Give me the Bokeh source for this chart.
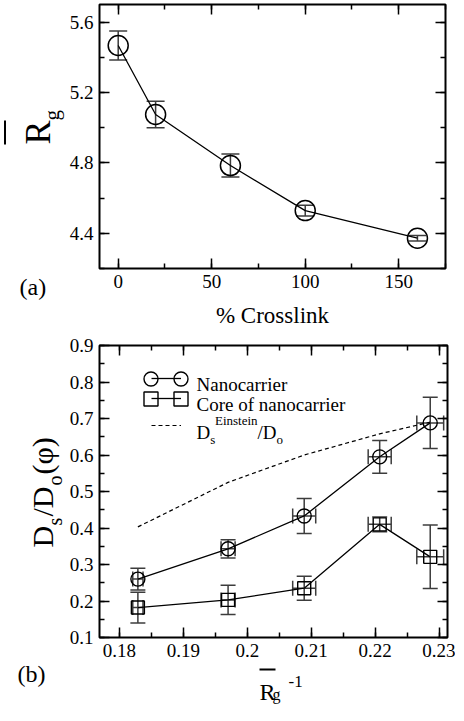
import math
from bokeh.plotting import figure
from bokeh.models import (ColumnDataSource, Whisker, TeeHead, Label, BoxAnnotation, Range1d,
                          SingleIntervalTicker, CustomJSTickFormatter, LinearAxis, Legend, LegendItem)
from bokeh.layouts import column, row
from bokeh.embed import file_html
from bokeh.resources import INLINE

# ---------------- data ----------------
crosslink = [0, 20, 60, 100, 160]
rg = [5.467, 5.075, 4.785, 4.529, 4.372]
rg_err = [0.083, 0.075, 0.065, 0.030, 0.016]

inv_rg = [0.1829, 0.1970, 0.2089, 0.2207, 0.2286]
inv_rg_err = [0.0008, 0.0011, 0.0018, 0.0018, 0.0021]
ds_nano = [0.260, 0.343, 0.433, 0.595, 0.688]
ds_nano_err = [0.030, 0.025, 0.048, 0.045, 0.070]
ds_core = [0.182, 0.203, 0.235, 0.410, 0.321]
ds_core_err = [0.042, 0.040, 0.033, 0.020, 0.087]
ds_einstein = [0.403, 0.525, 0.600, 0.658, 0.690]

FONT = "Liberation Serif"
EB = "#3c3c3c"


def fmt(decimals):
    return CustomJSTickFormatter(code="return Number(tick.toFixed(%d)).toString();" % decimals)


def setup_axes(p, xint, yint, xdec, ydec):
    xb = p.below[0]
    yl = p.left[0]
    xb.ticker = SingleIntervalTicker(interval=xint, num_minor_ticks=2)
    xb.formatter = fmt(xdec)
    yl.ticker = SingleIntervalTicker(interval=yint, num_minor_ticks=2)
    yl.formatter = fmt(ydec)
    extra = []
    for side, interval in (("above", xint), ("right", yint)):
        ax = LinearAxis(ticker=SingleIntervalTicker(interval=interval, num_minor_ticks=2),
                        formatter=CustomJSTickFormatter(code="return '';"))
        ax.major_label_text_font_size = "0px"
        ax.major_label_standoff = 0
        p.add_layout(ax, side)
        extra.append(ax)
    for ax in [xb, yl] + extra:
        ax.axis_line_color = None
        ax.major_tick_in = 10
        ax.major_tick_out = 0
        ax.minor_tick_in = 5
        ax.minor_tick_out = 0
        ax.major_tick_line_color = "black"
        ax.minor_tick_line_color = "black"
        ax.major_tick_line_width = 1.5
        ax.minor_tick_line_width = 1.5
        ax.major_label_text_font = FONT
        ax.major_label_text_color = "black"
    for ax in (xb, yl):
        ax.major_label_text_font_size = "19px"
    xb.major_label_standoff = 6
    yl.major_label_standoff = 6
    p.xgrid.visible = False
    p.ygrid.visible = False
    p.outline_line_color = "black"
    p.outline_line_width = 2
    return xb, yl


def label_fig(w, h):
    f = figure(width=w, height=h, min_border=0, x_axis_type=None, y_axis_type=None,
               x_range=Range1d(0, w), y_range=Range1d(0, h), title=None,
               toolbar_location=None, output_backend="svg",
               background_fill_color="white", border_fill_color="white")
    f.outline_line_color = None
    f.grid.visible = False
    return f


def lab(p, x, y, text, size, angle=0.0, align="left"):
    p.add_layout(Label(x=x, y=y, x_units="screen", y_units="screen", text=text,
                       text_font=FONT, text_font_size="%gpx" % size, text_color="black",
                       angle=angle, text_align=align, text_baseline="alphabetic"))


def bar(p, left, right, bottom, top):
    p.add_layout(BoxAnnotation(left=left, right=right, bottom=bottom, top=top,
                               left_units="screen", right_units="screen",
                               bottom_units="screen", top_units="screen",
                               fill_color="black", fill_alpha=1.0, line_color=None))


def whisker(p, src, base, lo, hi, dim, cap):
    p.add_layout(Whisker(base=base, lower=lo, upper=hi, source=src, dimension=dim,
                         line_color=EB, line_width=1.5,
                         upper_head=TeeHead(size=cap, line_color=EB, line_width=1.5),
                         lower_head=TeeHead(size=cap, line_color=EB, line_width=1.5)))


ROT = math.pi / 2

# ---------------- panel (a) ----------------
p1 = figure(width=389, height=334, min_border_left=31, min_border_right=10,
            min_border_top=4, min_border_bottom=66, title=None,
            x_range=Range1d(-10, 175), y_range=Range1d(4.2, 5.7),
            toolbar_location=None, output_backend="svg",
            background_fill_color="white", border_fill_color="white")
xb1, yl1 = setup_axes(p1, 50, 0.4, 0, 1)
xb1.axis_label = "% Crosslink"
xb1.axis_label_text_font = FONT
xb1.axis_label_text_font_size = "23px"
xb1.axis_label_text_font_style = "normal"
xb1.axis_label_text_color = "black"
xb1.axis_label_standoff = 12

src_a = ColumnDataSource(dict(x=crosslink, y=rg,
                              lo=[v - e for v, e in zip(rg, rg_err)],
                              hi=[v + e for v, e in zip(rg, rg_err)]))
whisker(p1, src_a, "x", "lo", "hi", "height", 18)
p1.line("x", "y", source=src_a, line_color="black", line_width=1.3)
p1.scatter("x", "y", source=src_a, marker="circle", size=20, fill_color=None,
           line_color="black", line_width=1.5)

# left label strip for panel (a): R-bar_g and (a)   (page x 8..74, y 8..342)
L1 = label_fig(66, 334)
lab(L1, 37, 190, "R", 36, angle=ROT)
lab(L1, 51, 214, "g", 21, angle=ROT)
bar(L1, 3.5, 5.5, 190, 214)
lab(L1, 19, 48, "(a)", 24)

# ---------------- panel (b) ----------------
p2 = figure(width=389, height=331, min_border_left=31, min_border_right=8,
            min_border_top=11, min_border_bottom=28, title=None,
            x_range=Range1d(0.1769, 0.2313), y_range=Range1d(0.1, 0.9),
            toolbar_location=None, output_backend="svg",
            background_fill_color="white", border_fill_color="white")
setup_axes(p2, 0.01, 0.1, 2, 1)

src_n = ColumnDataSource(dict(x=inv_rg, y=ds_nano,
                              ylo=[v - e for v, e in zip(ds_nano, ds_nano_err)],
                              yhi=[v + e for v, e in zip(ds_nano, ds_nano_err)],
                              xlo=[v - e for v, e in zip(inv_rg, inv_rg_err)],
                              xhi=[v + e for v, e in zip(inv_rg, inv_rg_err)]))
src_c = ColumnDataSource(dict(x=inv_rg, y=ds_core,
                              ylo=[v - e for v, e in zip(ds_core, ds_core_err)],
                              yhi=[v + e for v, e in zip(ds_core, ds_core_err)],
                              xlo=[v - e for v, e in zip(inv_rg, inv_rg_err)],
                              xhi=[v + e for v, e in zip(inv_rg, inv_rg_err)]))
src_e = ColumnDataSource(dict(x=inv_rg, y=ds_einstein))

for s in (src_n, src_c):
    whisker(p2, s, "x", "ylo", "yhi", "height", 15)
    whisker(p2, s, "y", "xlo", "xhi", "width", 15)

r_e = p2.line("x", "y", source=src_e, line_color="black", line_width=1.2, line_dash="4 3")
r_nl = p2.line("x", "y", source=src_n, line_color="black", line_width=1.3)
r_ns = p2.scatter("x", "y", source=src_n, marker="circle", size=14, fill_color=None,
                  line_color="black", line_width=1.4)
r_cl = p2.line("x", "y", source=src_c, line_color="black", line_width=1.3)
r_cs = p2.scatter("x", "y", source=src_c, marker="square", size=13, fill_color=None,
                  line_color="black", line_width=1.4)


def glyph_legend(p, renderer, cx, cy, gw, gh):
    p.add_layout(Legend(items=[LegendItem(label=" ", renderers=[renderer])],
                        location=(cx - gw / 2.0, cy - gh / 2.0),
                        glyph_width=gw, glyph_height=gh,
                        label_text_font_size="1px", label_standoff=0,
                        label_width=0, label_height=0,
                        padding=0, margin=0, spacing=0,
                        border_line_alpha=0, background_fill_alpha=0))


glyph_legend(p2, r_nl, 66.7, 259, 30, 20)
glyph_legend(p2, r_ns, 51.7, 259, 35, 35)
glyph_legend(p2, r_ns, 81.7, 259, 35, 35)
glyph_legend(p2, r_cl, 66.7, 239, 30, 20)
glyph_legend(p2, r_cs, 51.7, 239, 35, 35)
glyph_legend(p2, r_cs, 81.7, 239, 35, 35)
glyph_legend(p2, r_e, 67, 212.3, 30, 20)

lab(p2, 97, 253, "Nanocarrier", 19)
lab(p2, 97, 233, "Core of nanocarrier", 19)
lab(p2, 97, 205, "D", 19)
lab(p2, 110.7, 198, "s", 13)
lab(p2, 115.5, 217, "Einstein", 13)
lab(p2, 158, 205, "/D", 19)
lab(p2, 177, 198, "o", 13)

# left label strip for panel (b): D_s/D_o(phi) and (b)   (page x 8..74, y 342..713)
L2 = label_fig(66, 371)
lab(L2, 42, 158, "D", 30, angle=ROT)
lab(L2, 54, 180, "s", 20, angle=ROT)
lab(L2, 42, 189, "/D", 30, angle=ROT)
lab(L2, 54, 220, "o", 20, angle=ROT)
lab(L2, 42, 231, "(\u03c6)", 30, angle=ROT)
lab(L2, 17, 32, "(b)", 24)

# bottom label strip for panel (b): R-bar_g^-1   (page x 74..463, y 673..713)
L3 = label_fig(389, 40)
lab(L3, 193, 14, "R", 24)
bar(L3, 193, 209, 35, 37)
lab(L3, 206, 11, "g", 16)
lab(L3, 222, 24, "-1", 17)

layout = column(row(column(L1), column(p1)),
                row(column(L2), column(p2, row(L3))))
open("out.html", "w").write(file_html(layout, INLINE))
